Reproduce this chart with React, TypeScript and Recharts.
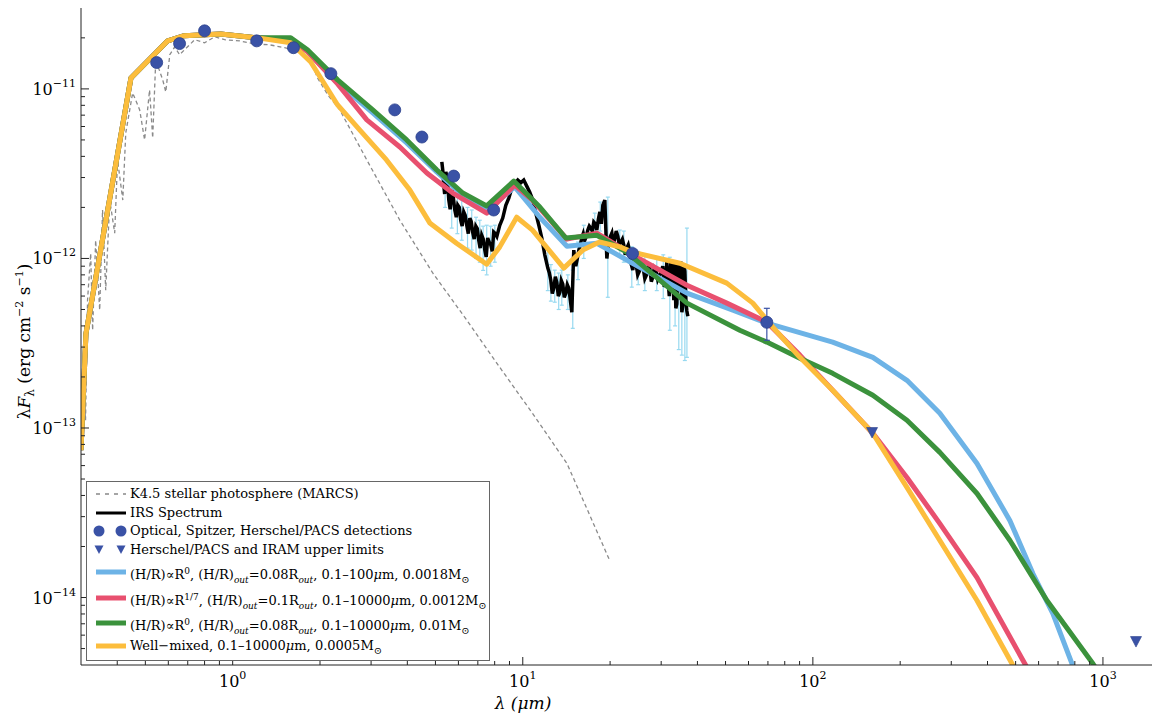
import React from 'react';
import { ComposedChart, Line, Scatter, XAxis, YAxis, ErrorBar } from 'recharts';

// ---------- data (wavelength in micron, lambda*F_lambda in erg cm^-2 s^-1) ----------
const modelShortWave = [0.3, 0.312, 0.446, 0.597, 0.681, 0.909, 1.22];
const modelShortFlux = [7.4e-14, 3.6e-13, 1.16e-11, 1.92e-11, 2.06e-11, 2.11e-11, 2.0e-11];

const blueWave = [1.585, 1.81, 2.3, 3.04, 3.98, 5.05, 6.21, 7.57, 9.38, 11.45, 14.2, 18.0, 23.9, 36.8, 53.0, 69.4, 117, 161, 211, 274, 368, 478, 574, 672, 782, 833];
const blueFlux = [1.95e-11, 1.66e-11, 1.085e-11, 7.22e-12, 4.8e-12, 3.24e-12, 2.37e-12, 1.93e-12, 2.64e-12, 1.75e-12, 1.18e-12, 1.23e-12, 9.37e-13, 6.24e-13, 4.95e-13, 4.15e-13, 3.21e-13, 2.61e-13, 1.91e-13, 1.22e-13, 6.18e-14, 2.84e-14, 1.38e-14, 8.04e-15, 4.07e-15, 2.8e-15];

const redWave = [1.585, 1.81, 2.3, 2.9, 3.77, 4.67, 5.74, 7.51, 9.38, 10.8, 14.2, 18.0, 23.9, 36.8, 50.5, 69.4, 90.2, 117, 161, 211, 274, 368, 538, 607];
const redFlux = [1.95e-11, 1.66e-11, 1.07e-11, 6.56e-12, 4.54e-12, 3.19e-12, 2.43e-12, 1.85e-12, 2.71e-12, 2.21e-12, 1.3e-12, 1.41e-12, 1.05e-12, 6.95e-13, 5.45e-13, 4.21e-13, 2.69e-13, 1.67e-13, 9.3e-14, 5.1e-14, 2.73e-14, 1.31e-14, 4.07e-15, 2.8e-15];

const greenWave = [1.585, 1.81, 2.3, 3.04, 3.98, 5.05, 6.21, 7.51, 9.31, 11.45, 14.07, 18.0, 22.8, 36.8, 56.0, 69.4, 90.2, 117, 161, 211, 274, 368, 478, 641, 924, 1057];
const greenFlux = [2.0e-11, 1.7e-11, 1.13e-11, 7.52e-12, 5.0e-12, 3.33e-12, 2.43e-12, 2.04e-12, 2.86e-12, 2.01e-12, 1.32e-12, 1.37e-12, 1.09e-12, 5.45e-13, 3.77e-13, 3.21e-13, 2.58e-13, 2.1e-13, 1.56e-13, 1.11e-13, 7.18e-14, 4.11e-14, 2.17e-14, 9.6e-15, 4.07e-15, 2.8e-15];

const yellowWave = [1.585, 1.858, 2.3, 2.74, 3.39, 4.08, 4.78, 5.91, 7.51, 8.33, 9.53, 10.8, 13.85, 16.1, 18.4, 21.6, 23.9, 34.8, 50.5, 62.1, 72.8, 90.2, 117, 161, 211, 274, 368, 486, 560];
const yellowFlux = [1.87e-11, 1.44e-11, 8.04e-12, 5.73e-12, 3.81e-12, 2.53e-12, 1.62e-12, 1.23e-12, 9.25e-13, 1.17e-12, 1.75e-12, 1.47e-12, 8.77e-13, 1.12e-12, 1.25e-12, 1.17e-12, 1.09e-12, 9.37e-13, 7.15e-13, 5.45e-13, 3.93e-13, 2.61e-13, 1.67e-13, 9.3e-14, 4.46e-14, 2.17e-14, 9.6e-15, 4.07e-15, 2.45e-15];

const photoWave = [0.3, 0.304, 0.311, 0.316, 0.324, 0.329, 0.337, 0.348, 0.356, 0.365, 0.377, 0.392, 0.401, 0.418, 0.428, 0.452, 0.478, 0.497, 0.517, 0.53, 0.543, 0.574, 0.588, 0.607, 0.631, 0.656, 0.682, 0.74, 0.8, 0.867, 0.938, 1.057, 1.19, 1.34, 1.51, 1.7, 1.858, 1.96, 2.13, 2.34, 2.9, 3.77, 4.9, 6.41, 8.33, 10.8, 14.2, 19.95];
const photoFlux = [8.45e-14, 2.28e-13, 1.11e-13, 5.68e-13, 1.07e-12, 3.77e-13, 1.28e-12, 4.96e-13, 1.93e-12, 6.5e-13, 2.21e-12, 1.41e-12, 3.81e-12, 2.21e-12, 5.5e-12, 9.47e-12, 7.52e-12, 5.0e-12, 9.86e-12, 5.14e-12, 1.48e-11, 1.13e-11, 9.6e-12, 1.59e-11, 1.77e-11, 1.59e-11, 1.7e-11, 1.95e-11, 1.87e-11, 2.03e-11, 1.95e-11, 1.92e-11, 1.84e-11, 1.82e-11, 1.75e-11, 1.66e-11, 1.48e-11, 1.16e-11, 9.2e-12, 7.52e-12, 3.81e-12, 1.68e-12, 8.18e-13, 4.33e-13, 2.28e-13, 1.22e-13, 6.18e-14, 1.65e-14];

const irsWave = [5.26, 5.3, 5.34, 5.38, 5.43, 5.5, 5.56, 5.62, 5.69, 5.76, 5.83, 5.9, 5.97, 6.04, 6.11, 6.18, 6.26, 6.33, 6.41, 6.49, 6.57, 6.64, 6.72, 6.8, 6.89, 6.97, 7.05, 7.13, 7.22, 7.31, 7.4, 7.48, 7.57, 7.66, 7.76, 7.85, 7.94, 8.04, 8.14, 8.23, 8.33, 8.53, 8.74, 8.95, 9.17, 9.38, 9.61, 9.84, 10.08, 10.32, 10.57, 10.83, 11.09, 11.36, 11.63, 11.91, 12.2, 12.35, 12.49, 12.64, 12.79, 12.95, 13.1, 13.26, 13.42, 13.58, 13.74, 13.9, 14.07, 14.24, 14.41, 14.6, 14.76, 14.99, 15.23, 15.42, 15.61, 15.79, 15.97, 16.16, 16.36, 16.56, 16.76, 16.96, 17.16, 17.37, 17.57, 17.78, 18.0, 18.22, 18.44, 18.66, 18.88, 19.18, 19.49, 19.8, 20.28, 20.52, 20.76, 21.0, 21.27, 21.5, 21.78, 22.05, 22.3, 22.57, 22.84, 23.1, 23.39, 23.67, 23.95, 24.2, 24.53, 24.9, 25.32, 25.6, 25.93, 26.35, 26.77, 27.1, 27.41, 27.74, 28.07, 28.4, 28.75, 29.2, 29.67, 30.0, 30.39, 30.75, 31.12, 31.37, 31.62, 32.0, 32.39, 32.78, 33.17, 33.43, 33.7, 33.97, 34.24, 34.5, 34.79, 35.07, 35.35, 35.63, 35.92, 36.2, 36.49, 36.78, 37.07];
const irsFlux = [3.71e-12, 3.3e-12, 2.71e-12, 2.4e-12, 3.24e-12, 2.9e-12, 2.21e-12, 1.95e-12, 2.53e-12, 2.3e-12, 1.93e-12, 1.75e-12, 2.06e-12, 2.0e-12, 1.68e-12, 1.55e-12, 1.88e-12, 1.8e-12, 1.57e-12, 1.4e-12, 1.73e-12, 1.65e-12, 1.43e-12, 1.3e-12, 1.55e-12, 1.5e-12, 1.28e-12, 1.15e-12, 1.37e-12, 1.3e-12, 1.12e-12, 1.02e-12, 1.32e-12, 1.25e-12, 1.2e-12, 1.1e-12, 1.43e-12, 1.4e-12, 1.35e-12, 1.45e-12, 1.57e-12, 1.73e-12, 2.06e-12, 2.27e-12, 2.6e-12, 2.75e-12, 2.9e-12, 2.79e-12, 2.9e-12, 2.67e-12, 2.46e-12, 2.21e-12, 1.85e-12, 1.57e-12, 1.32e-12, 1.05e-12, 8.77e-13, 8.2e-13, 7.44e-13, 6.2e-13, 6.68e-13, 7.8e-13, 7.24e-13, 6.0e-13, 6.32e-13, 7.4e-13, 7.05e-13, 5.9e-13, 6.24e-13, 7.0e-13, 6.68e-13, 5.6e-13, 4.82e-13, 1.12e-12, 9.0e-13, 1.0e-12, 1.12e-12, 1.2e-12, 1.32e-12, 1.4e-12, 1.28e-12, 1.35e-12, 1.47e-12, 1.55e-12, 1.51e-12, 1.45e-12, 1.64e-12, 1.6e-12, 1.47e-12, 1.7e-12, 1.88e-12, 1.6e-12, 2.06e-12, 2.21e-12, 1.0e-12, 1.28e-12, 1.41e-12, 1.2e-12, 1.32e-12, 1.45e-12, 1.35e-12, 1.2e-12, 1.25e-12, 1.3e-12, 1.2e-12, 1.05e-12, 1.15e-12, 1.2e-12, 1.09e-12, 9.2e-13, 8.53e-13, 1.0e-12, 9.51e-13, 8.0e-13, 8.53e-13, 9.5e-13, 9.13e-13, 7.6e-13, 8.08e-13, 9.0e-13, 8.77e-13, 7.3e-13, 7.76e-13, 8.8e-13, 8.53e-13, 7.5e-13, 7.97e-13, 8.4e-13, 9.0e-13, 6.8e-13, 7.24e-13, 9.6e-13, 7.65e-13, 6.0e-13, 9.51e-13, 8.6e-13, 5.67e-13, 9.4e-13, 5.08e-13, 5.4e-13, 9.13e-13, 6.8e-13, 7.97e-13, 9.6e-13, 4.82e-13, 5.3e-13, 9.13e-13, 8.4e-13, 5.67e-13, 4.9e-13, 4.56e-13];

const irsErrWave = [5.4, 5.69, 5.95, 6.16, 6.45, 6.67, 6.9, 7.11, 7.3, 7.51, 7.75, 8.01, 12.2, 12.5, 12.89, 13.3, 13.63, 14.3, 14.87, 15.5, 16.23, 17.71, 18.5, 19.64, 21.6, 22.3, 23.76, 25.0, 26.35, 28.97, 30.5, 32.13, 33.5, 34.5, 35.35, 36.2, 36.8];
const irsErrFlux = [2.6e-12, 2.06e-12, 1.9e-12, 1.8e-12, 1.6e-12, 1.57e-12, 1.4e-12, 1.32e-12, 1.2e-12, 1.2e-12, 1.25e-12, 1.32e-12, 9.13e-13, 7.4e-13, 6.68e-13, 6.5e-13, 6.96e-13, 6.5e-13, 5.67e-13, 1.0e-12, 1.28e-12, 1.57e-12, 1.8e-12, 1.37e-12, 1.25e-12, 1.2e-12, 9.51e-13, 9.0e-13, 8.53e-13, 8.3e-13, 8.0e-13, 6.96e-13, 7.0e-13, 6.5e-13, 5.67e-13, 6.0e-13, 6.5e-13];
const irsErrLow = [0.6e-12, 0.55e-12, 0.5e-12, 0.52e-12, 0.45e-12, 0.45e-12, 0.4e-12, 0.37e-12, 0.35e-12, 0.4e-12, 0.35e-12, 0.37e-12, 2.67e-13, 1.8e-13, 1.16e-13, 1.5e-13, 1.66e-13, 1.5e-13, 1.8e-13, 2.5e-13, 0.28e-12, 0.24e-12, 0.35e-12, 0.78e-12, 0.22e-12, 0.25e-12, 2.74e-13, 2.0e-13, 2.07e-13, 1.84e-13, 2.2e-13, 3.19e-13, 3.0e-13, 3.6e-13, 2.98e-13, 3.5e-13, 3.89e-13];
const irsErrHigh = [0.6e-12, 0.54e-12, 0.5e-12, 0.41e-12, 0.4e-12, 0.36e-12, 0.35e-12, 0.36e-12, 0.35e-12, 0.37e-12, 0.3e-12, 0.25e-12, 2.07e-13, 1.8e-13, 1.85e-13, 1.7e-13, 1.57e-13, 1.5e-13, 2.86e-13, 2.5e-13, 0.29e-12, 0.28e-12, 0.35e-12, 0.93e-12, 0.22e-12, 0.25e-12, 2.2e-13, 2.0e-13, 1.97e-13, 1.7e-13, 2.5e-13, 3.2e-13, 2.5e-13, 2.0e-13, 0.83e-13, 2.0e-13, 8.6e-13];

const detWave = [0.547, 0.656, 0.8, 1.21, 1.62, 2.18, 3.62, 4.49, 5.78, 7.94, 23.9, 69.4];
const detFlux = [1.43e-11, 1.85e-11, 2.2e-11, 1.92e-11, 1.75e-11, 1.23e-11, 7.52e-12, 5.2e-12, 3.06e-12, 1.93e-12, 1.07e-12, 4.2e-13];
const detErrWave = [69.4];
const detErrFlux = [4.2e-13];
const detErrLow = [0.91e-13];
const detErrHigh = [0.88e-13];

const ulWave = [160, 1300];
const ulFlux = [9.4e-14, 5.5e-15];

const xTicks = [0.4, 0.5, 0.6, 0.7, 0.8, 0.9, 1, 2, 3, 4, 5, 6, 7, 8, 9, 10, 20, 30, 40, 50, 60, 70, 80, 90, 100, 200, 300, 400, 500, 600, 700, 800, 900, 1000];
const yTicks = [5e-15, 6e-15, 7e-15, 8e-15, 9e-15, 1e-14, 2e-14, 3e-14, 4e-14, 5e-14, 6e-14, 7e-14, 8e-14, 9e-14, 1e-13, 2e-13, 3e-13, 4e-13, 5e-13, 6e-13, 7e-13, 8e-13, 9e-13, 1e-12, 2e-12, 3e-12, 4e-12, 5e-12, 6e-12, 7e-12, 8e-12, 9e-12, 1e-11, 2e-11];

const X_DOMAIN = [0.3, 1476];
const Y_DOMAIN = [4e-15, 3e-11];

// ---------- helpers ----------
const pts = (xs: number[], ys: number[]) => xs.map((x, i) => ({ x, y: ys[i] }));
const errPts = (xs: number[], ys: number[], lo: number[], hi: number[]) =>
  xs.map((x, i) => ({ x, y: ys[i], err: [lo[i], hi[i]] }));

const SERIF = '"DejaVu Serif", "Liberation Serif", serif';
const C_BLUE = '#6db3e6';
const C_RED = '#e8506f';
const C_GREEN = '#3b923c';
const C_YELLOW = '#fcbd3c';
const C_MARK = '#3a52a6';
const C_ERR = '#97d9f0';

const isMajor = (v: number) => Math.abs(Math.log10(v) - Math.round(Math.log10(v))) < 1e-6;
const expOf = (v: number) => Math.round(Math.log10(v));
const expStr = (e: number) => (e < 0 ? '\u2212' + -e : String(e));

const BottomTick = (props: any) => {
  const { x, y, payload } = props;
  const major = isMajor(payload.value);
  return (
    <g>
      <line x1={x} x2={x} y1={y} y2={y - (major ? 8 : 4)} stroke="#222" strokeWidth={1} />
      {major && (
        <text x={x} y={y + 22} textAnchor="middle" fontFamily={SERIF} fontSize={16} fill="#000">
          10<tspan dy={-8} fontSize={11}>{expStr(expOf(payload.value))}</tspan>
        </text>
      )}
    </g>
  );
};
const TopTick = (props: any) => {
  const { x, y, payload } = props;
  const major = isMajor(payload.value);
  return <line x1={x} x2={x} y1={y} y2={y + (major ? 8 : 4)} stroke="#222" strokeWidth={1} />;
};
const LeftTick = (props: any) => {
  const { x, y, payload } = props;
  const major = isMajor(payload.value);
  return (
    <g>
      <line x1={x} x2={x + (major ? 8 : 4)} y1={y} y2={y} stroke="#222" strokeWidth={1} />
      {major && (
        <text x={x - 5} y={y + 6} textAnchor="end" fontFamily={SERIF} fontSize={16} fill="#000">
          10<tspan dy={-8} fontSize={11}>{expStr(expOf(payload.value))}</tspan>
        </text>
      )}
    </g>
  );
};

const XTitle = (props: any) => {
  const vb = props.viewBox;
  const cx = vb.x + vb.width * 0.4127;
  return (
    <text x={cx} y={vb.y + 44} textAnchor="middle" fontFamily={SERIF} fontSize={17} fontStyle="italic" fill="#000">
      λ (μm)
    </text>
  );
};
const YTitle = (props: any) => {
  const vb = props.viewBox;
  const cx = vb.x + 22;
  const cy = vb.y + vb.height / 2 + 5;
  return (
    <text x={cx} y={cy} transform={`rotate(-90 ${cx} ${cy})`} textAnchor="middle" fontFamily={SERIF} fontSize={17} fill="#000">
      λ<tspan fontStyle="italic">F</tspan>
      <tspan dy={4} fontSize={12}>λ</tspan>
      <tspan dy={-4}> (erg cm</tspan>
      <tspan dy={-7} fontSize={11}>−2</tspan>
      <tspan dy={7}> s</tspan>
      <tspan dy={-7} fontSize={11}>−1</tspan>
      <tspan dy={7}>)</tspan>
    </text>
  );
};

const Triangle = (props: any) => {
  const { cx, cy } = props;
  return <path d={`M${cx - 5.5},${cy - 5} L${cx + 5.5},${cy - 5} L${cx},${cy + 5.5} Z`} fill={C_MARK} stroke="#2a3f8c" strokeWidth={0.6} />;
};
const Dot = (props: any) => {
  const { cx, cy } = props;
  return <circle cx={cx} cy={cy} r={6} fill={C_MARK} stroke="#2a3f8c" strokeWidth={0.8} />;
};
const NoShape = () => <g />;

// ---------- legend ----------
const Out = () => <sub style={{ fontStyle: 'italic', fontSize: 9 }}>out</sub>;
const Sun = () => <sub style={{ fontSize: 10 }}>⊙</sub>;

const legendRows: { top: number; handle: string; color: string; text: React.ReactNode }[] = [
  { top: 12, handle: 'dash', color: '#888', text: 'K4.5 stellar photosphere (MARCS)' },
  { top: 31, handle: 'line', color: '#000', text: 'IRS Spectrum' },
  { top: 49, handle: 'dot', color: C_MARK, text: 'Optical, Spitzer, Herschel/PACS detections' },
  { top: 68, handle: 'tri', color: C_MARK, text: 'Herschel/PACS and IRAM upper limits' },
  { top: 90, handle: 'thick', color: C_BLUE, text: (<>(H/R)∝R<sup style={{ fontSize: 9 }}>0</sup>, (H/R)<Out />=0.08R<Out />, 0.1–100<i>μ</i>m, 0.0018M<Sun /></>) },
  { top: 116, handle: 'thick', color: C_RED, text: (<>(H/R)∝R<sup style={{ fontSize: 9 }}>1/7</sup>, (H/R)<Out />=0.1R<Out />, 0.1–10000<i>μ</i>m, 0.0012M<Sun /></>) },
  { top: 141, handle: 'thick', color: C_GREEN, text: (<>(H/R)∝R<sup style={{ fontSize: 9 }}>0</sup>, (H/R)<Out />=0.08R<Out />, 0.1–10000<i>μ</i>m, 0.01M<Sun /></>) },
  { top: 164, handle: 'thick', color: C_YELLOW, text: (<>Well−mixed, 0.1–10000<i>μ</i>m, 0.0005M<Sun /></>) },
];

const Handle = ({ kind, color }: { kind: string; color: string }) => (
  <svg width={36} height={16} style={{ position: 'absolute', left: 6, top: -8 }}>
    {kind === 'dash' && <line x1={3} x2={33} y1={8} y2={8} stroke={color} strokeWidth={1.3} strokeDasharray="4 5" />}
    {kind === 'line' && <line x1={3} x2={33} y1={8} y2={8} stroke={color} strokeWidth={3} />}
    {kind === 'thick' && <line x1={3} x2={33} y1={8} y2={8} stroke={color} strokeWidth={5} />}
    {kind === 'dot' && (<><circle cx={6} cy={8} r={5.5} fill={color} /><circle cx={28} cy={8} r={5.5} fill={color} /></>)}
    {kind === 'tri' && (<><path d="M1.5,3.5 L10.5,3.5 L6,12 Z" fill={color} /><path d="M23.5,3.5 L32.5,3.5 L28,12 Z" fill={color} /></>)}
  </svg>
);

const LegendBox = () => (
  <div style={{ position: 'absolute', left: 86, top: 481, width: 402, height: 178, border: '1px solid #666', background: '#fff', fontFamily: SERIF, fontSize: 13, color: '#000' }}>
    {legendRows.map((r, i) => (
      <div key={i} style={{ position: 'absolute', left: 0, top: r.top, width: 400, height: 0 }}>
        <Handle kind={r.handle} color={r.color} />
        <div style={{ position: 'absolute', left: 43, top: -9, whiteSpace: 'nowrap', lineHeight: '17px' }}>{r.text}</div>
      </div>
    ))}
  </div>
);

export default function App() {
  const W = 1152;
  const H = 713;
  const axisCommon = { type: 'number' as const, scale: 'log' as const, allowDataOverflow: true, interval: 0 as const, tickSize: 0, tickMargin: 0, tickLine: false };
  return (
    <div style={{ position: 'absolute', left: 0, top: 0, width: W, height: H, background: '#fff', overflow: 'hidden' }}>
      <ComposedChart width={W} height={H} margin={{ top: 8, right: 0, bottom: 8, left: 8 }}>
        <XAxis xAxisId="b" dataKey="x" orientation="bottom" {...axisCommon} domain={X_DOMAIN} ticks={xTicks} height={40} tick={BottomTick} axisLine={{ stroke: '#222' }} label={<XTitle />} />
        <XAxis xAxisId="t" dataKey="x" orientation="top" {...axisCommon} domain={X_DOMAIN} ticks={xTicks} height={0} tick={TopTick} axisLine={{ stroke: '#222' }} />
        <YAxis yAxisId="l" dataKey="y" orientation="left" {...axisCommon} domain={Y_DOMAIN} ticks={yTicks} width={73} tick={LeftTick} axisLine={{ stroke: '#222' }} label={<YTitle />} />

        <Line xAxisId="b" yAxisId="l" data={pts(photoWave, photoFlux)} dataKey="y" stroke="#8a8a8a" strokeWidth={1.3} strokeDasharray="4 3" dot={false} isAnimationActive={false} />
        <Scatter xAxisId="b" yAxisId="l" data={errPts(irsErrWave, irsErrFlux, irsErrLow, irsErrHigh)} dataKey="y" shape={NoShape} isAnimationActive={false}>
          <ErrorBar dataKey="err" direction="y" width={2} stroke={C_ERR} strokeWidth={1.2} isAnimationActive={false} />
        </Scatter>
        <Line xAxisId="b" yAxisId="l" data={pts(irsWave, irsFlux)} dataKey="y" stroke="#000" strokeWidth={3.5} dot={false} isAnimationActive={false} />
        <Line xAxisId="b" yAxisId="l" data={pts([...modelShortWave, ...blueWave], [...modelShortFlux, ...blueFlux])} dataKey="y" stroke={C_BLUE} strokeWidth={5} strokeLinejoin="round" dot={false} isAnimationActive={false} />
        <Line xAxisId="b" yAxisId="l" data={pts([...modelShortWave, ...redWave], [...modelShortFlux, ...redFlux])} dataKey="y" stroke={C_RED} strokeWidth={5} strokeLinejoin="round" dot={false} isAnimationActive={false} />
        <Line xAxisId="b" yAxisId="l" data={pts([...modelShortWave, ...greenWave], [...modelShortFlux, ...greenFlux])} dataKey="y" stroke={C_GREEN} strokeWidth={5} strokeLinejoin="round" dot={false} isAnimationActive={false} />
        <Line xAxisId="b" yAxisId="l" data={pts([...modelShortWave, ...yellowWave], [...modelShortFlux, ...yellowFlux])} dataKey="y" stroke={C_YELLOW} strokeWidth={5} strokeLinejoin="round" dot={false} isAnimationActive={false} />
        <Scatter xAxisId="b" yAxisId="l" data={errPts(detErrWave, detErrFlux, detErrLow, detErrHigh)} dataKey="y" shape={NoShape} isAnimationActive={false}>
          <ErrorBar dataKey="err" direction="y" width={3} stroke={C_MARK} strokeWidth={1.2} isAnimationActive={false} />
        </Scatter>
        <Scatter xAxisId="b" yAxisId="l" data={pts(detWave, detFlux)} dataKey="y" shape={Dot} isAnimationActive={false} />
        <Scatter xAxisId="b" yAxisId="l" data={pts(ulWave, ulFlux)} dataKey="y" shape={Triangle} isAnimationActive={false} />
      </ComposedChart>
      <LegendBox />
    </div>
  );
}
